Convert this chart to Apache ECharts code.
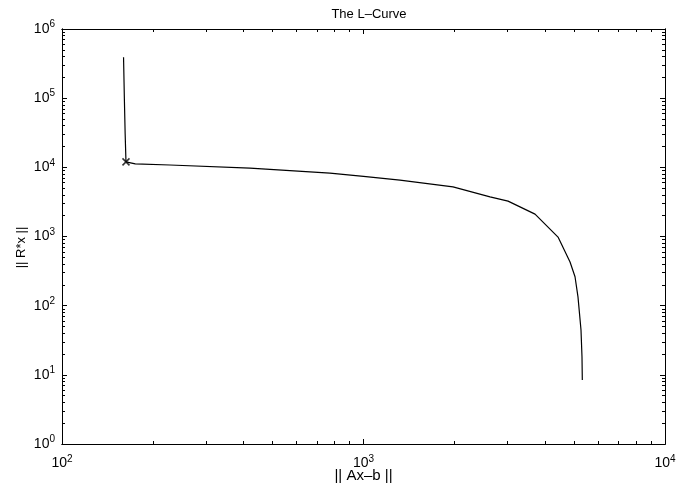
<!DOCTYPE html>
<html>
<head>
<meta charset="utf-8">
<script src="https://cdn.jsdelivr.net/npm/echarts@6/dist/echarts.min.js"></script>
<style>
  html, body { margin: 0; padding: 0; background: #fff; }
  #chart { width: 699px; height: 487px; }
</style>
</head>
<body>
<div id="chart"></div>
<script>
// L-curve points: residual norm and solution seminorm
const residualNorm = [160, 161, 162, 163, 175, 228, 420, 774, 1000, 1321, 1981, 2628, 3016, 3706, 4418, 4842, 5030, 5145, 5265, 5305, 5318];
const solutionNorm = [390000, 100000, 30000, 12000, 11200, 10800, 9730, 8250, 7400, 6530, 5230, 3750, 3246, 2108, 980, 427, 262, 134, 44.4, 18.3, 8.4];
// the corner that is marked with an x
const cornerPoint = [163, 12000];

const xTicks = [100, 1000, 10000];
const yTicks = [1, 10, 100, 1000, 10000, 100000, 1000000];

// log minor ticks at 2..9 of every decade
function minorTicks(majors) {
  const out = [];
  for (let i = 0; i < majors.length - 1; i++) {
    for (let k = 2; k <= 9; k++) out.push(majors[i] * k);
  }
  return out;
}

const font = "'Liberation Sans', Arial, sans-serif";
const label = {
  fontFamily: font,
  formatter: v => '{b|10}{s|' + Math.round(Math.log10(v)) + '}',
  rich: {
    b: { fontSize: 14, color: '#000', fontFamily: font },
    s: { fontSize: 10, color: '#000', fontFamily: font, verticalAlign: 'top', padding: [0, 0, 9, 0] }
  }
};
const line = { show: true, onZero: false, lineStyle: { color: '#000', width: 1 } };

function xAxisDef(position, minor, withLabels) {
  return {
    type: 'log', logBase: 10, min: 100, max: 10000, position: position,
    axisLine: line,
    axisTick: { show: true, inside: true, length: minor ? 3 : 5, lineStyle: { color: '#000' },
      customValues: minor ? minorTicks(xTicks) : xTicks },
    axisLabel: withLabels ? Object.assign({ margin: 10, customValues: xTicks }, label) : { show: false },
    splitLine: { show: false },
    name: withLabels ? '|| Ax\u2013b ||' : '',
    nameLocation: 'middle', nameGap: 24, nameMoveOverlap: false,
    nameTextStyle: { fontFamily: font, fontSize: 15, color: '#000', verticalAlign: 'top' }
  };
}
function yAxisDef(position, minor, withLabels) {
  return {
    type: 'log', logBase: 10, min: 1, max: 1000000, position: position,
    axisLine: line,
    axisTick: { show: true, inside: true, length: minor ? 3 : 5, lineStyle: { color: '#000' },
      customValues: minor ? minorTicks(yTicks) : yTicks },
    axisLabel: withLabels ? Object.assign({ margin: 7, customValues: yTicks }, label) : { show: false },
    splitLine: { show: false },
    name: withLabels ? '|| R*x ||' : '',
    nameLocation: 'middle', nameGap: 34, nameRotate: 90, nameMoveOverlap: false,
    nameTextStyle: { fontFamily: font, fontSize: 13, color: '#000', padding: [0, 22, 0, 0] }
  };
}

const chart = echarts.init(document.getElementById('chart'));
chart.setOption({
  animation: false,
  backgroundColor: '#fff',
  title: {
    text: 'The L\u2013Curve', left: 364, top: 3, textAlign: 'center',
    textStyle: { fontFamily: font, fontSize: 13, fontWeight: 'normal', color: '#000' }
  },
  grid: { left: 62, right: 34, top: 29, bottom: 43, outerBoundsMode: 'none' },
  xAxis: [
    xAxisDef('bottom', false, true),
    xAxisDef('bottom', true, false),
    xAxisDef('top', false, false),
    xAxisDef('top', true, false)
  ],
  yAxis: [
    yAxisDef('left', false, true),
    yAxisDef('left', true, false),
    yAxisDef('right', false, false),
    yAxisDef('right', true, false)
  ],
  series: [
    {
      type: 'line',
      data: residualNorm.map((r, i) => [r, solutionNorm[i]]),
      showSymbol: false,
      lineStyle: { color: '#000', width: 1.2 }
    },
    {
      type: 'scatter',
      data: [cornerPoint],
      symbol: 'path://M0,0L10,10M10,0L0,10',
      symbolSize: 7,
      itemStyle: { color: 'none', borderColor: '#000', borderWidth: 1.5 }
    }
  ]
});
</script>
</body>
</html>
